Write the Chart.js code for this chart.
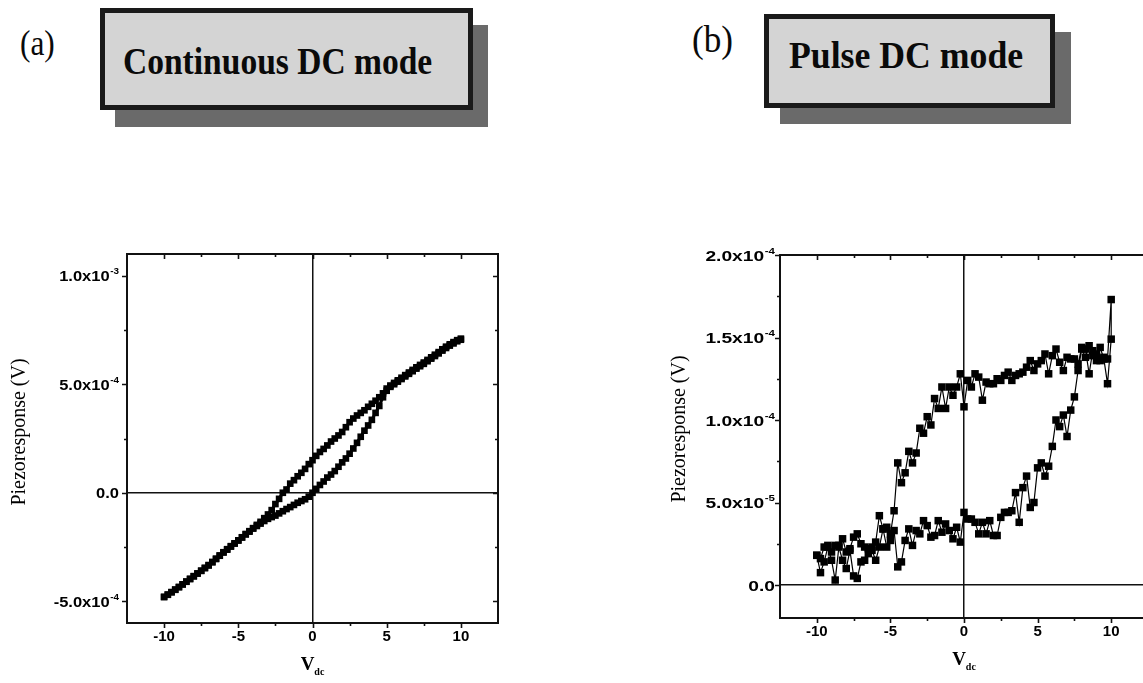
<!DOCTYPE html>
<html><head><meta charset="utf-8">
<script src="https://cdn.jsdelivr.net/npm/chart.js@4.4.1/dist/chart.umd.min.js"></script>
<style>
html,body{margin:0;padding:0;background:#fff;overflow:hidden;width:1143px;height:683px;position:relative;}
.box{position:absolute;background:#d4d4d4;border:5px solid #1a1a1a;box-sizing:border-box;}
.shadow{position:absolute;background:#6a6a6a;}
.txt{position:absolute;white-space:nowrap;line-height:1;color:#0a0a0a;font-family:"Liberation Serif","Times New Roman",serif;transform-origin:0 0;}
canvas{position:absolute;}
</style></head>
<body>
<div class="shadow" style="left:115px;top:25px;width:373px;height:102px"></div>
<div class="box" style="left:100px;top:8px;width:373px;height:102px"></div>
<div class="txt" style="left:123px;top:43px;font-size:37px;font-weight:bold;transform:scaleX(0.906)">Continuous DC mode</div>
<div class="txt" style="left:20px;top:25px;font-size:36px;transform:scaleX(0.87)">(a)</div>

<div class="shadow" style="left:780px;top:32px;width:291px;height:92px"></div>
<div class="box" style="left:764px;top:14px;width:291px;height:94px"></div>
<div class="txt" style="left:789px;top:36px;font-size:38px;font-weight:bold;transform:scaleX(0.94)">Pulse DC mode</div>
<div class="txt" style="left:692px;top:21px;font-size:37px;transform:scaleX(0.95)">(b)</div>

<canvas id="cA" width="520" height="443" style="left:0px;top:240px"></canvas>
<canvas id="cB" width="500" height="443" style="left:660px;top:240px"></canvas>

<script>
// Applied DC voltage (V), sweep grid
const vdc = [-10,-9.75,-9.5,-9.25,-9,-8.75,-8.5,-8.25,-8,-7.75,-7.5,-7.25,-7,-6.75,-6.5,-6.25,-6,-5.75,-5.5,-5.25,-5,
  -4.75,-4.5,-4.25,-4,-3.75,-3.5,-3.25,-3,-2.75,-2.5,-2.25,-2,-1.75,-1.5,-1.25,-1,-0.75,-0.5,-0.25,0,
  0.25,0.5,0.75,1,1.25,1.5,1.75,2,2.25,2.5,2.75,3,3.25,3.5,3.75,4,4.25,4.5,4.75,5,
  5.25,5.5,5.75,6,6.25,6.5,6.75,7,7.25,7.5,7.75,8,8.25,8.5,8.75,9,9.25,9.5,9.75,10];

// (a) Continuous DC mode, piezoresponse in units of 1e-4 V (ascending V order)
const contUp = [-4.80,-4.70,-4.58,-4.47,-4.35,-4.22,-4.10,-3.97,-3.85,-3.72,-3.60,-3.47,-3.35,-3.20,-3.05,-2.90,-2.75,-2.62,-2.48,-2.34,-2.20,
  -2.06,-1.92,-1.79,-1.65,-1.53,-1.42,-1.30,-1.20,-1.12,-1.05,-0.95,-0.85,-0.75,-0.66,-0.56,-0.46,-0.38,-0.30,-0.18,0.00,
  0.18,0.36,0.52,0.70,0.84,1.00,1.20,1.40,1.58,1.80,2.04,2.30,2.58,2.86,3.10,3.36,3.68,4.00,4.40,4.70,
  4.88,5.00,5.12,5.24,5.36,5.48,5.60,5.72,5.83,5.94,6.06,6.18,6.30,6.42,6.55,6.67,6.78,6.88,6.98,7.05];
const contDown = [-4.80,-4.69,-4.58,-4.46,-4.34,-4.22,-4.09,-3.97,-3.84,-3.72,-3.59,-3.46,-3.33,-3.19,-3.04,-2.89,-2.74,-2.60,-2.46,-2.33,-2.19,
  -2.05,-1.90,-1.77,-1.63,-1.48,-1.34,-1.17,-1.00,-0.80,-0.52,-0.28,0.00,0.15,0.42,0.58,0.76,0.92,1.10,1.32,1.50,
  1.70,1.88,2.02,2.18,2.36,2.50,2.64,2.80,3.02,3.25,3.42,3.56,3.68,3.80,3.96,4.10,4.24,4.40,4.58,4.80,
  4.94,5.06,5.18,5.30,5.42,5.54,5.66,5.78,5.89,6.00,6.12,6.24,6.36,6.48,6.61,6.73,6.84,6.94,7.03,7.10];
const unitA = 1e-4;

// (b) Pulse DC mode, piezoresponse in units of 1e-5 V (ascending V order)
const pulseUp = [1.8,1.6,2.3,2.4,2.0,2.4,2.4,2.8,2.0,2.2,2.9,3.1,2.5,2.3,2.2,2.3,2.6,4.2,3.4,3.5,2.7,
  3.3,1.1,1.4,2.7,3.4,2.4,3.3,3.1,3.9,3.6,2.9,3.0,3.9,3.2,3.7,3.3,2.8,3.5,2.6,4.4,
  4.0,4.0,3.8,3.1,3.8,3.1,3.9,3.0,3.0,4.1,4.4,4.4,4.5,5.6,3.8,5.9,6.6,4.7,5.0,7.1,
  7.4,6.6,7.2,8.4,10.0,9.6,10.3,9.0,10.6,11.4,13.0,14.3,13.8,14.5,13.9,14.0,13.6,13.8,13.7,17.3];
const pulseDown = [1.8,0.75,1.4,2.3,1.5,0.3,2.3,1.5,1.0,2.1,0.55,0.4,1.4,1.5,1.9,2.1,1.5,2.3,3.4,2.3,3.1,
  4.5,7.4,6.2,6.8,8.1,7.4,8.0,9.5,9.2,10.2,9.7,11.3,10.7,12.0,10.7,12.0,11.5,12.0,12.8,10.8,
  12.4,12.0,12.8,12.6,11.2,12.3,12.2,12.2,12.5,12.4,12.7,12.9,12.4,12.7,12.8,12.9,13.2,13.6,13.0,13.4,
  13.6,14.0,12.8,13.9,14.3,13.5,13.0,13.8,13.7,13.7,13.4,14.4,14.3,12.8,14.2,13.6,14.4,13.7,12.2,14.9];
const unitB = 1e-5;

// Axis ticks and labels
const xTicks = [-10, -5, 0, 5, 10];
const yTicksA = [-5e-4, 0, 5e-4, 1e-3];
const yLabelsA = [['-5.0x10','-4'], ['0.0',''], ['5.0x10','-4'], ['1.0x10','-3']];
const yTicksB = [0, 5e-5, 1e-4, 1.5e-4, 2e-4];
const yLabelsB = [['0.0',''], ['5.0x10','-5'], ['1.0x10','-4'], ['1.5x10','-4'], ['2.0x10','-4']];
const yTitle = 'Piezoresponse (V)';

function loop(up, down, unit) {
  const pts = up.map((p, i) => ({x: vdc[i], y: p * unit}));
  for (let i = down.length - 1; i >= 0; i--) pts.push({x: vdc[i], y: down[i] * unit});
  return pts;
}

function makeDecor(c) {
  return {
    id: 'decor',
    afterDraw(chart) {
      const ctx = chart.ctx, a = chart.chartArea;
      const xs = chart.scales.x, ys = chart.scales.y;
      const mids = arr => arr.slice(1).map((v, i) => (v + arr[i]) / 2);
      ctx.save();
      ctx.strokeStyle = '#111';
      ctx.lineWidth = 2;
      ctx.strokeRect(a.left, a.top, a.right - a.left, a.bottom - a.top);
      ctx.lineWidth = 1.6;
      ctx.beginPath();
      xTicks.map(v => [v, 5]).concat(mids(xTicks).map(v => [v, 3])).forEach(([v, len]) => {
        const px = Math.round(xs.getPixelForValue(v)) + 0.5;
        ctx.moveTo(px, a.bottom); ctx.lineTo(px, a.bottom + len);
        ctx.moveTo(px, a.top); ctx.lineTo(px, a.top + len);
      });
      c.yTicks.map(v => [v, 5]).concat(mids(c.yTicks).map(v => [v, 3])).forEach(([v, len]) => {
        const py = Math.round(ys.getPixelForValue(v)) + 0.5;
        ctx.moveTo(a.left - len, py); ctx.lineTo(a.left, py);
        ctx.moveTo(a.right, py); ctx.lineTo(a.right - len, py);
      });
      ctx.stroke();

      // y tick labels with superscript exponents
      ctx.fillStyle = '#000';
      ctx.textBaseline = 'alphabetic';
      c.yLabels.forEach((lab, i) => {
        const py = ys.getPixelForValue(c.yTicks[i]);
        const right = a.left - c.labelGap;
        ctx.save();
        ctx.translate(right, 0);
        ctx.scale(c.sx, 1);
        ctx.font = 'bold 9px "Liberation Sans"';
        const ws = lab[1] ? ctx.measureText(lab[1]).width + 0.5 : 0;
        if (lab[1]) { ctx.textAlign = 'right'; ctx.fillText(lab[1], 0, py - 1.5); }
        ctx.font = 'bold 15px "Liberation Sans"';
        ctx.textAlign = 'right';
        ctx.fillText(lab[0], -ws, py + 5.5);
        ctx.restore();
      });

      // y axis title
      ctx.save();
      ctx.translate(c.yTitleX, c.yTitleY);
      ctx.rotate(-Math.PI / 2);
      ctx.font = '20px "Liberation Serif"';
      ctx.textAlign = 'center';
      ctx.textBaseline = 'middle';
      ctx.fillText(yTitle, 0, 0);
      ctx.restore();

      // x axis title V_dc
      ctx.font = 'bold 19px "Liberation Serif"';
      const wV = ctx.measureText('V').width;
      ctx.font = 'bold 10px "Liberation Serif"';
      const wS = ctx.measureText('dc').width;
      const cx = (a.left + a.right) / 2;
      const x0 = cx - (wV + wS) / 2;
      ctx.textAlign = 'left';
      ctx.font = 'bold 19px "Liberation Serif"';
      ctx.fillText('V', x0, c.xTitleY);
      ctx.font = 'bold 10px "Liberation Serif"';
      ctx.fillText('dc', x0 + wV, c.xTitleY + 5);
      ctx.restore();
    }
  };
}

function build(id, c) {
  const gridOpt = {
    drawTicks: false,
    lineWidth: 1.5,
    color: g => (g.tick && g.tick.value === 0) ? '#111' : 'rgba(0,0,0,0)'
  };
  new Chart(document.getElementById(id), {
    type: 'scatter',
    data: { datasets: [{
      data: c.data, showLine: true, borderColor: '#000', borderWidth: c.lw, tension: 0,
      pointStyle: 'rect', pointRadius: c.pr, pointHoverRadius: c.pr,
      pointBackgroundColor: '#000', pointBorderWidth: 0
    }] },
    options: {
      responsive: false, animation: false, events: [],
      layout: { padding: { top: c.padTop, right: c.padRight, left: 0, bottom: 0 } },
      scales: {
        x: {
          type: 'linear', min: -12.5, max: 12.5,
          afterBuildTicks: s => { s.ticks = xTicks.map(v => ({value: v})); },
          afterFit: s => { s.height = c.xh; },
          ticks: { color: '#000', font: {family: 'Liberation Sans', weight: 'bold', size: 15}, padding: 5,
                   maxRotation: 0, autoSkip: false, callback: v => String(v) },
          grid: gridOpt, border: { display: false }
        },
        y: {
          type: 'linear', min: c.ymin, max: c.ymax,
          afterBuildTicks: s => { s.ticks = c.yTicks.map(v => ({value: v})); },
          afterFit: s => { s.width = c.yw; },
          ticks: { display: false },
          grid: gridOpt, border: { display: false }
        }
      },
      plugins: { legend: { display: false }, tooltip: { enabled: false } }
    },
    plugins: [makeDecor(c)]
  });
}

build('cA', {
  data: loop(contUp, contDown, unitA), pr: 4.7, lw: 3,
  ymin: -6e-4, ymax: 1.1e-3, yTicks: yTicksA, yLabels: yLabelsA,
  padTop: 14, padRight: 22, yw: 127, xh: 60,
  labelGap: 8, sx: 1.1, yTitleX: 20, yTitleY: 192, xTitleY: 430
});
build('cB', {
  data: loop(pulseUp, pulseDown, unitB), pr: 5.3, lw: 1.2,
  ymin: -2e-5, ymax: 2e-4, yTicks: yTicksB, yLabels: yLabelsB,
  padTop: 15, padRight: 12, yw: 120, xh: 65,
  labelGap: 5, sx: 1.28, yTitleX: 20, yTitleY: 189, xTitleY: 425
});
</script>
</body></html>
